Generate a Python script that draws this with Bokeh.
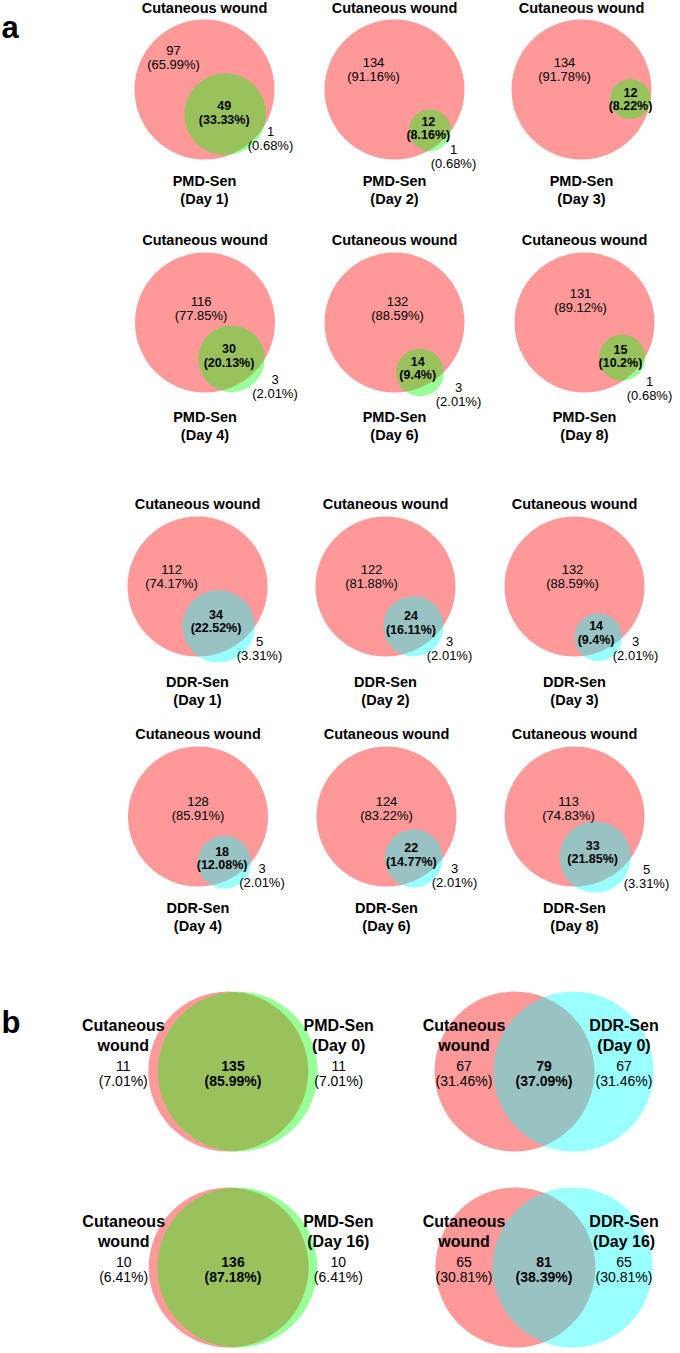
import math
from bokeh.plotting import figure
from bokeh.models import Range1d, ColumnDataSource
from bokeh.core.properties import value
from bokeh.embed import file_html
from bokeh.resources import INLINE

# ---------------- data ----------------
wound_name = "Cutaneous wound"
days_a = ["Day 1", "Day 2", "Day 3", "Day 4", "Day 6", "Day 8"]
pmd_wound_only = [97, 134, 134, 116, 132, 131]
pmd_overlap = [49, 12, 12, 30, 14, 15]
pmd_sen_only = [1, 1, 0, 3, 3, 1]
ddr_wound_only = [112, 122, 132, 128, 124, 113]
ddr_overlap = [34, 24, 14, 18, 22, 33]
ddr_sen_only = [5, 3, 3, 3, 3, 5]

b_sen_names = ["PMD-Sen", "DDR-Sen", "PMD-Sen", "DDR-Sen"]
b_days = ["Day 0", "Day 0", "Day 16", "Day 16"]
b_wound_only = [11, 67, 10, 65]
b_overlap = [135, 79, 136, 81]
b_sen_only = [11, 67, 10, 65]

# ---------------- layout / style ----------------
FONT = value("Liberation Sans")
RED = "#FF0000"
SEN_COLOR = {"PMD-Sen": "#00FF00", "DDR-Sen": "#00FFFF"}
ALPHA = 0.4

K_A = 70 / math.sqrt(146)
K_B = 80 / math.sqrt(146)

# page-pixel coordinates
A_ROWS = [
    dict(name="PMD-Sen", idx=[0, 1, 2], cy=89, xs=[204, 394, 581], lab=(91, 109)),
    dict(name="PMD-Sen", idx=[3, 4, 5], cy=322, xs=[204.5, 394, 584], lab=(94, 112)),
    dict(name="DDR-Sen", idx=[0, 1, 2], cy=586, xs=[197, 385, 574], lab=(95, 113)),
    dict(name="DDR-Sen", idx=[3, 4, 5], cy=816, xs=[197.5, 386, 574], lab=(91, 109)),
]
ANGLE = {"PMD-Sen": [50, 49, 11, 54, 63, 43], "DDR-Sen": [62, 55, 65, 60, 57, 63]}
RED_LAB = {"PMD-Sen": [(-31, -32), (-21, -20), (-17, -20), (-4, -14), (3, -14), (-4, -22)],
           "DDR-Sen": [(-26, -10), (-14, -10), (-2, -10), (0, -8), (0, -8), (-6, -8)]}
OUT_LAB = {"PMD-Sen": [(66, 49), (59, 67), (0, 0), (70, 64), (64, 72), (65, 66)],
           "DDR-Sen": [(62, 62), (64, 62), (61, 62), (64, 59), (68, 59), (72, 60)]}
B_CENTERS = [(232.5, 1071), (543.5, 1071), (232.5, 1267), (543.5, 1267)]


def lens_area(r1, r2, d):
    if d >= r1 + r2:
        return 0.0
    if d <= abs(r1 - r2):
        return math.pi * min(r1, r2) ** 2
    a1 = r1 * r1 * math.acos((d * d + r1 * r1 - r2 * r2) / (2 * d * r1))
    a2 = r2 * r2 * math.acos((d * d + r2 * r2 - r1 * r1) / (2 * d * r2))
    a3 = 0.5 * math.sqrt((-d + r1 + r2) * (d + r1 - r2) * (d - r1 + r2) * (d + r1 + r2))
    return a1 + a2 - a3


def solve_d(r1, r2, target):
    lo, hi = abs(r1 - r2), r1 + r2
    if target >= math.pi * min(r1, r2) ** 2 - 1e-9:
        return lo
    for _ in range(100):
        mid = (lo + hi) / 2
        if lens_area(r1, r2, mid) > target:
            lo = mid
        else:
            hi = mid
    return (lo + hi) / 2


def pct(n, total):
    return "({:g}%)".format(round(100.0 * n / total, 2))


big = dict(x=[], y=[], r=[])
small = dict(x=[], y=[], r=[], c=[])
T = {k: dict(x=[], y=[], t=[]) for k in
     ["title_a", "count_a", "ov_a", "cat_b", "count_b", "ov_b"]}


def add(key, x, y, t):
    T[key]["x"].append(x)
    T[key]["y"].append(y)
    T[key]["t"].append(t)


# ---------------- panel a ----------------
for row in A_ROWS:
    name = row["name"]
    if name == "PMD-Sen":
        wo_l, ov_l, so_l = pmd_wound_only, pmd_overlap, pmd_sen_only
    else:
        wo_l, ov_l, so_l = ddr_wound_only, ddr_overlap, ddr_sen_only
    for col, i in enumerate(row["idx"]):
        wo, ov, so = wo_l[i], ov_l[i], so_l[i]
        total = wo + ov + so
        cx, cy = row["xs"][col], row["cy"]
        r1 = K_A * math.sqrt(wo + ov)
        r2 = K_A * math.sqrt(ov + so)
        d = solve_d(r1, r2, math.pi * K_A * K_A * ov)
        th = math.radians(ANGLE[name][i])
        ux, uy = math.cos(th), math.sin(th)
        big["x"].append(cx); big["y"].append(cy); big["r"].append(r1)
        small["x"].append(cx + d * ux); small["y"].append(cy + d * uy)
        small["r"].append(r2); small["c"].append(SEN_COLOR[name])
        # titles
        add("title_a", cx, max(cy - 83, 7), wound_name)
        add("title_a", cx, cy + row["lab"][0], name)
        add("title_a", cx, cy + row["lab"][1], "(" + days_a[i] + ")")
        # wound-only label
        dx, dy = RED_LAB[name][i]
        add("count_a", cx + dx, cy + dy - 7, str(wo))
        add("count_a", cx + dx, cy + dy + 7, pct(wo, total))
        # overlap label (middle of lens along centre line)
        t = (max(d - r2, -r1) + min(r1, d + r2)) / 2
        ox, oy = cx + t * ux, cy + t * uy
        add("ov_a", ox, oy - 7, str(ov))
        add("ov_a", ox, oy + 7, pct(ov, total))
        # sen-only label
        if so > 0:
            ex, ey = OUT_LAB[name][i]
            add("count_a", cx + ex, cy + ey - 7, str(so))
            add("count_a", cx + ex, cy + ey + 7, pct(so, total))

# ---------------- panel b ----------------
for i, (mx, cy) in enumerate(B_CENTERS):
    wo, ov, so = b_wound_only[i], b_overlap[i], b_sen_only[i]
    total = wo + ov + so
    r1 = K_B * math.sqrt(wo + ov)
    r2 = K_B * math.sqrt(ov + so)
    d = solve_d(r1, r2, math.pi * K_B * K_B * ov)
    x1, x2 = mx - d / 2, mx + d / 2
    big["x"].append(x1); big["y"].append(cy); big["r"].append(r1)
    small["x"].append(x2); small["y"].append(cy); small["r"].append(r2)
    small["c"].append(SEN_COLOR[b_sen_names[i]])
    red_left, red_right = x1 - r1, x1 + r1
    sen_left, sen_right = x2 - r2, x2 + r2
    lx = red_left - 25 if (sen_left - red_left) < 40 else (red_left + sen_left) / 2
    rx = sen_right + 21 if (sen_right - red_right) < 40 else (red_right + sen_right) / 2
    ovx = (sen_left + red_right) / 2
    w1, w2 = wound_name.split(" ")
    add("cat_b", lx, cy - 46, w1)
    add("cat_b", lx, cy - 26, w2)
    add("count_b", lx, cy - 6, str(wo))
    add("count_b", lx, cy + 9, pct(wo, total))
    add("cat_b", rx, cy - 46, b_sen_names[i])
    add("cat_b", rx, cy - 26, "(" + b_days[i] + ")")
    add("count_b", rx, cy - 6, str(so))
    add("count_b", rx, cy + 9, pct(so, total))
    add("ov_b", ovx, cy - 6, str(ov))
    add("ov_b", ovx, cy + 9, pct(ov, total))

# ---------------- figure ----------------
p = figure(width=680, height=1353, x_range=Range1d(0, 680), y_range=Range1d(1353, 0),
           output_backend="svg", toolbar_location=None, min_border=0,
           x_axis_type=None, y_axis_type=None)
p.xgrid.visible = False
p.ygrid.visible = False
p.outline_line_color = None
p.background_fill_color = "white"
p.border_fill_color = "white"

p.circle(x="x", y="y", radius="r", source=ColumnDataSource(big),
         fill_color=RED, fill_alpha=ALPHA, line_color=None)
p.circle(x="x", y="y", radius="r", source=ColumnDataSource(small),
         fill_color="c", fill_alpha=ALPHA, line_color=None)

STY = {
    "title_a": ("14.5px", "bold"),
    "count_a": ("13px", "normal"),
    "ov_a": ("12.5px", "bold"),
    "cat_b": ("16px", "bold"),
    "count_b": ("14px", "normal"),
    "ov_b": ("14px", "bold"),
}
for key, (size, style) in STY.items():
    p.text(x="x", y="y", text="t", source=ColumnDataSource(T[key]),
           text_font=FONT, text_font_size=value(size), text_font_style=style,
           text_align="center", text_baseline="middle", text_color="black")

p.text(x=[1, 1], y=[27, 1022], text=["a", "b"], text_font=FONT,
       text_font_size=value("31px"), text_font_style="bold",
       text_align="left", text_baseline="alphabetic", text_color="black")

open("out.html", "w").write(file_html(p, INLINE))
